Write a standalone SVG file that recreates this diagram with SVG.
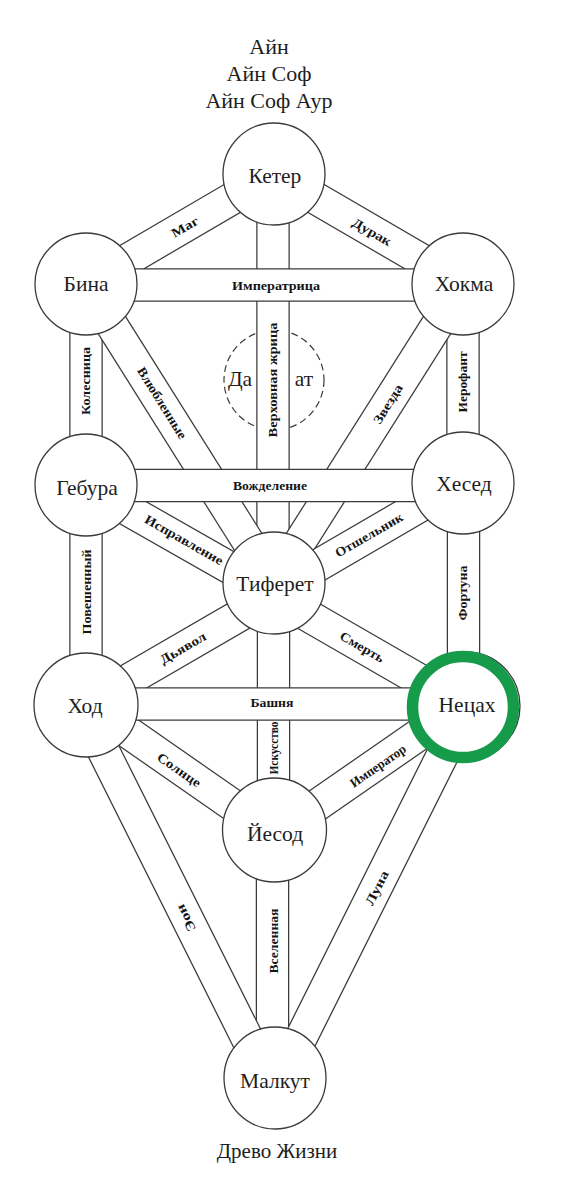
<svg xmlns="http://www.w3.org/2000/svg" width="563" height="1200" viewBox="0 0 563 1200">
<style>
.e{stroke:#3a3a3a;stroke-width:33.5;stroke-linecap:butt;fill:none}
.i{stroke:#fff;stroke-width:31;stroke-linecap:butt;fill:none}
.n{fill:#fff;stroke:#3a3a3a;stroke-width:1.3}
.t{font-family:"Liberation Serif","Times New Roman",serif;font-size:21.5px;fill:#1e1e1e;text-anchor:middle}
.h{font-family:"Liberation Serif","Times New Roman",serif;font-size:22px;fill:#1e1e1e;text-anchor:middle}
.l{font-family:"Liberation Serif","Times New Roman",serif;font-size:13px;font-weight:bold;fill:#151515;text-anchor:middle}
.d{fill:none;stroke:#3a3a3a;stroke-width:1.2;stroke-dasharray:7 4}
.g{fill:none;stroke:#169b4a;stroke-width:11.5}
</style>
<rect width="563" height="1200" fill="#fff"/>
<g id="title">
<text class="h" x="269" y="54">Айн</text>
<text class="h" x="269" y="81">Айн Соф</text>
<text class="h" x="269" y="108">Айн Соф Аур</text>
</g>
<g id="daat">
<circle class="d" cx="274" cy="380" r="50"/>
<text class="t" x="240" y="385.5">Да</text>
<text class="t" x="304" y="385.5">ат</text>
</g>
<g id="connectors">
<line class="e" x1="273" y1="174" x2="273" y2="583"/><line class="i" x1="273" y1="174" x2="273" y2="583"/>
<line class="e" x1="86" y1="284" x2="86" y2="485"/><line class="i" x1="86" y1="284" x2="86" y2="485"/>
<line class="e" x1="463" y1="284" x2="463" y2="483"/><line class="i" x1="463" y1="284" x2="463" y2="483"/>
<line class="e" x1="86" y1="485" x2="86" y2="705"/><line class="i" x1="86" y1="485" x2="86" y2="705"/>
<line class="e" x1="463.5" y1="483" x2="463.5" y2="704"/><line class="i" x1="463.5" y1="483" x2="463.5" y2="704"/>
<line class="e" x1="273.5" y1="583" x2="273.5" y2="830"/><line class="i" x1="273.5" y1="583" x2="273.5" y2="830"/>
<line class="e" x1="272.5" y1="830" x2="272.5" y2="1078"/><line class="i" x1="272.5" y1="830" x2="272.5" y2="1078"/>
<line class="e" x1="274" y1="174" x2="86" y2="284"/><line class="i" x1="274" y1="174" x2="86" y2="284"/>
<line class="e" x1="274" y1="174" x2="463" y2="284"/><line class="i" x1="274" y1="174" x2="463" y2="284"/>
<line class="e" x1="86" y1="284" x2="274" y2="583"/><line class="i" x1="86" y1="284" x2="274" y2="583"/>
<line class="e" x1="463" y1="284" x2="274" y2="583"/><line class="i" x1="463" y1="284" x2="274" y2="583"/>
<line class="e" x1="86" y1="486" x2="274" y2="593"/><line class="i" x1="86" y1="486" x2="274" y2="593"/>
<line class="e" x1="463" y1="481" x2="274" y2="591"/><line class="i" x1="463" y1="481" x2="274" y2="591"/>
<line class="e" x1="86" y1="704.5" x2="274" y2="595.5"/><line class="i" x1="86" y1="704.5" x2="274" y2="595.5"/>
<line class="e" x1="463" y1="705" x2="274" y2="596"/><line class="i" x1="463" y1="705" x2="274" y2="596"/>
<line class="e" x1="86" y1="703" x2="274" y2="834"/><line class="i" x1="86" y1="703" x2="274" y2="834"/>
<line class="e" x1="463" y1="704" x2="274" y2="835"/><line class="i" x1="463" y1="704" x2="274" y2="835"/>
<line class="e" x1="80" y1="704" x2="267" y2="1078"/><line class="i" x1="80" y1="704" x2="267" y2="1078"/>
<line class="e" x1="468" y1="704" x2="281" y2="1078"/><line class="i" x1="468" y1="704" x2="281" y2="1078"/>
<line class="e" x1="86" y1="285" x2="463" y2="285"/><line class="i" x1="86" y1="285" x2="463" y2="285"/>
<line class="e" x1="86" y1="485.5" x2="463" y2="485.5"/><line class="i" x1="86" y1="485.5" x2="463" y2="485.5"/>
<line class="e" x1="86" y1="704" x2="463" y2="704"/><line class="i" x1="86" y1="704" x2="463" y2="704"/>
<g id="path-labels">
<text class="l" transform="translate(185,227) rotate(-30)" dy="0.33em" textLength="29" lengthAdjust="spacingAndGlyphs">Маг</text>
<text class="l" transform="translate(372,232) rotate(30)" dy="0.33em" textLength="43" lengthAdjust="spacingAndGlyphs">Дурак</text>
<text class="l" transform="translate(276,286)" dy="0.33em" textLength="88" lengthAdjust="spacingAndGlyphs">Императрица</text>
<text class="l" transform="translate(273,380) rotate(-90)" dy="0.33em" textLength="115" lengthAdjust="spacingAndGlyphs">Верховная жрица</text>
<text class="l" transform="translate(86,381) rotate(-90)" dy="0.33em" textLength="68" lengthAdjust="spacingAndGlyphs">Колесница</text>
<text class="l" transform="translate(162,403) rotate(58)" dy="0.33em" textLength="82" lengthAdjust="spacingAndGlyphs">Влюбленные</text>
<text class="l" transform="translate(388,404) rotate(-58)" dy="0.33em" textLength="44" lengthAdjust="spacingAndGlyphs">Звезда</text>
<text class="l" transform="translate(463,382) rotate(-90)" dy="0.33em" textLength="61" lengthAdjust="spacingAndGlyphs">Иерофант</text>
<text class="l" transform="translate(270,486)" dy="0.33em" textLength="74" lengthAdjust="spacingAndGlyphs">Вожделение</text>
<text class="l" transform="translate(184,540) rotate(29.6)" dy="0.33em" textLength="88" lengthAdjust="spacingAndGlyphs">Исправление</text>
<text class="l" transform="translate(369,535) rotate(-30.2)" dy="0.33em" textLength="76" lengthAdjust="spacingAndGlyphs">Отшельник</text>
<text class="l" transform="translate(87,592) rotate(-90)" dy="0.33em" textLength="85" lengthAdjust="spacingAndGlyphs">Повешенный</text>
<text class="l" transform="translate(463,593) rotate(-90)" dy="0.33em" textLength="55" lengthAdjust="spacingAndGlyphs">Фортуна</text>
<text class="l" transform="translate(183,648) rotate(-30.1)" dy="0.33em" textLength="51" lengthAdjust="spacingAndGlyphs">Дьявол</text>
<text class="l" transform="translate(362,647) rotate(30)" dy="0.33em" textLength="49" lengthAdjust="spacingAndGlyphs">Смерть</text>
<text class="l" transform="translate(272,703)" dy="0.33em" textLength="43" lengthAdjust="spacingAndGlyphs">Башня</text>
<text class="l" transform="translate(274,748) rotate(-90)" dy="0.33em" textLength="53" lengthAdjust="spacingAndGlyphs">Искусство</text>
<text class="l" transform="translate(179,770) rotate(34.9)" dy="0.33em" textLength="50" lengthAdjust="spacingAndGlyphs">Солнце</text>
<text class="l" transform="translate(378,766) rotate(-34.7)" dy="0.33em" textLength="65" lengthAdjust="spacingAndGlyphs">Император</text>
<text class="l" transform="translate(186,918) rotate(-116.6)" dy="0.33em" textLength="29" lengthAdjust="spacingAndGlyphs">Эон</text>
<text class="l" transform="translate(377,888) rotate(-63.4)" dy="0.33em" textLength="37" lengthAdjust="spacingAndGlyphs">Луна</text>
<text class="l" transform="translate(274,941) rotate(-90)" dy="0.33em" textLength="65" lengthAdjust="spacingAndGlyphs">Вселенная</text>
</g>
</g>
<g id="keter"><circle class="n" cx="274" cy="174" r="51"/><text class="t" x="275" y="183">Кетер</text></g>
<g id="bina"><circle class="n" cx="86" cy="284" r="51"/><text class="t" x="86" y="290.5">Бина</text></g>
<g id="hokma"><circle class="n" cx="463" cy="284" r="51"/><text class="t" x="464" y="290.5">Хокма</text></g>
<g id="gebura"><circle class="n" cx="86" cy="485" r="51"/><text class="t" x="87" y="494.5">Гебура</text></g>
<g id="hesed"><circle class="n" cx="463" cy="483" r="51"/><text class="t" x="464" y="490.5">Хесед</text></g>
<g id="tiferet"><circle class="n" cx="274" cy="583" r="51"/><text class="t" x="275" y="590.5">Тиферет</text></g>
<g id="hod"><circle class="n" cx="86" cy="705" r="52"/><text class="t" x="85" y="712.5">Ход</text></g>
<g id="netzach"><circle class="n" cx="466" cy="706" r="54"/><circle class="g" cx="463" cy="707" r="50.5"/><text class="t" x="467" y="711.5">Нецах</text></g>
<g id="yesod"><circle class="n" cx="274.5" cy="830" r="52"/><text class="t" x="275" y="840.5">Йесод</text></g>
<g id="malkut"><circle class="n" cx="275" cy="1078" r="51"/><text class="t" x="275" y="1087.5">Малкут</text></g>
<g id="caption"><text class="t" x="277" y="1158" style="font-size:21px">Древо Жизни</text></g>
</svg>
